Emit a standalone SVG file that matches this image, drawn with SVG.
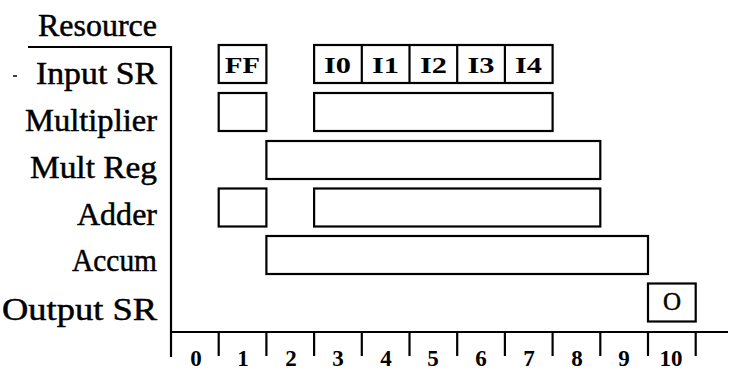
<svg xmlns="http://www.w3.org/2000/svg" width="730" height="370" viewBox="0 0 730 370">
<style>
text{font-family:"Liberation Serif","Times New Roman",serif;fill:#000}
.lbl{font-size:32px;stroke:#000;stroke-width:0.5;text-anchor:end}
.bx{fill:#fff;stroke:#000;stroke-width:2.2}
.bt{font-size:23px;font-weight:bold;text-anchor:middle}
.num{font-size:23px;font-weight:bold;text-anchor:middle}
.ax{stroke:#000;stroke-width:2.2;fill:none}
</style>
<rect width="730" height="370" fill="#fff"/>
<g id="labels">
<text class="lbl" x="157" y="36" textLength="119" lengthAdjust="spacingAndGlyphs">Resource</text>
<text class="lbl" x="157" y="84" textLength="121" lengthAdjust="spacingAndGlyphs">Input SR</text>
<text class="lbl" x="157" y="131" textLength="132" lengthAdjust="spacingAndGlyphs">Multiplier</text>
<text class="lbl" x="157" y="178" textLength="127" lengthAdjust="spacingAndGlyphs">Mult Reg</text>
<text class="lbl" x="157" y="225" textLength="80" lengthAdjust="spacingAndGlyphs">Adder</text>
<text class="lbl" x="157" y="271" textLength="85" lengthAdjust="spacingAndGlyphs">Accum</text>
<text class="lbl" x="157" y="320" textLength="155" lengthAdjust="spacingAndGlyphs">Output SR</text>
<line x1="13" y1="76" x2="17" y2="76" stroke="#000" stroke-width="1.5"/>
</g>
<g id="axes">
<line class="ax" x1="28" y1="47" x2="171" y2="47"/>
<line class="ax" x1="171" y1="46" x2="171" y2="357"/>
<line class="ax" x1="170" y1="332" x2="728" y2="332"/>
<line class="ax" x1="218.7" y1="333" x2="218.7" y2="356"/>
<line class="ax" x1="266.4" y1="333" x2="266.4" y2="356"/>
<line class="ax" x1="314.1" y1="333" x2="314.1" y2="356"/>
<line class="ax" x1="361.8" y1="333" x2="361.8" y2="356"/>
<line class="ax" x1="409.5" y1="333" x2="409.5" y2="356"/>
<line class="ax" x1="457.2" y1="333" x2="457.2" y2="356"/>
<line class="ax" x1="504.9" y1="333" x2="504.9" y2="356"/>
<line class="ax" x1="552.6" y1="333" x2="552.6" y2="356"/>
<line class="ax" x1="600.3" y1="333" x2="600.3" y2="356"/>
<line class="ax" x1="648" y1="333" x2="648" y2="356"/>
<line class="ax" x1="695.7" y1="333" x2="695.7" y2="356"/>
<text class="num" x="196" y="366">0</text>
<text class="num" x="243" y="366">1</text>
<text class="num" x="291" y="366">2</text>
<text class="num" x="338" y="366">3</text>
<text class="num" x="386" y="366">4</text>
<text class="num" x="433" y="366">5</text>
<text class="num" x="481" y="366">6</text>
<text class="num" x="529" y="366">7</text>
<text class="num" x="577" y="366">8</text>
<text class="num" x="624" y="366">9</text>
<text class="num" x="671" y="366">10</text>
</g>
<g id="input-sr">
<rect class="bx" x="218.7" y="45" width="47.7" height="38"/>
<text class="bt" x="242.5" y="73" textLength="35" lengthAdjust="spacingAndGlyphs">FF</text>
<rect class="bx" x="314.1" y="45" width="238.5" height="38"/>
<line class="ax" x1="361.8" y1="45" x2="361.8" y2="83"/>
<line class="ax" x1="409.5" y1="45" x2="409.5" y2="83"/>
<line class="ax" x1="457.2" y1="45" x2="457.2" y2="83"/>
<line class="ax" x1="504.9" y1="45" x2="504.9" y2="83"/>
<text class="bt" x="337.5" y="73" textLength="27" lengthAdjust="spacingAndGlyphs">I0</text>
<text class="bt" x="385.5" y="73" textLength="27" lengthAdjust="spacingAndGlyphs">I1</text>
<text class="bt" x="433.5" y="73" textLength="27" lengthAdjust="spacingAndGlyphs">I2</text>
<text class="bt" x="481" y="73" textLength="27" lengthAdjust="spacingAndGlyphs">I3</text>
<text class="bt" x="528.5" y="73" textLength="27" lengthAdjust="spacingAndGlyphs">I4</text>
</g>
<g id="multiplier">
<rect class="bx" x="218.7" y="93" width="47.7" height="38"/>
<rect class="bx" x="314.1" y="93" width="238.5" height="38"/>
</g>
<g id="mult-reg">
<rect class="bx" x="266.4" y="141" width="333.9" height="38"/>
</g>
<g id="adder">
<rect class="bx" x="218.7" y="188.5" width="47.7" height="38"/>
<rect class="bx" x="314.1" y="188.5" width="286.2" height="38"/>
</g>
<g id="accum">
<rect class="bx" x="266.4" y="236" width="381.6" height="38"/>
</g>
<g id="output-sr">
<rect class="bx" x="648" y="283.5" width="47.7" height="38"/>
<text x="672" y="310" font-size="25" text-anchor="middle" stroke="#000" stroke-width="0.4">O</text>
</g>
</svg>
